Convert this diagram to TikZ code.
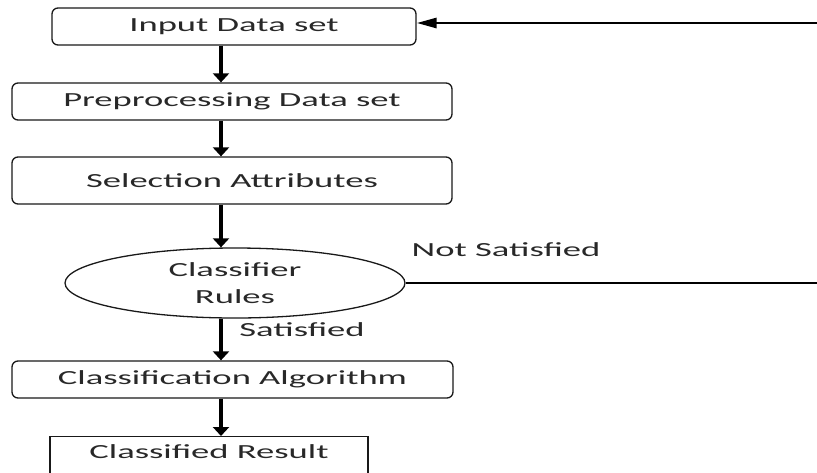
\documentclass[tikz,border=0pt]{standalone}
\usepackage{graphicx}
\usepackage{fontspec}
\setmainfont{Carlito}
\usetikzlibrary{arrows.meta,shapes.geometric}
\newcommand\wtx[1]{\scalebox{1.83}[1]{#1}}
\definecolor{txtc}{RGB}{40,40,40}
\definecolor{edgec}{RGB}{25,25,25}
\begin{document}
\begin{tikzpicture}[x=1pt,y=-1pt,
  every node/.style={font=\fontsize{20}{27}\selectfont, text=txtc},
  stepbox/.style={draw=edgec, line width=1.3pt, rounded corners=6pt, inner sep=0pt},
  plainbox/.style={draw=edgec, line width=1.3pt, inner sep=0pt},
  flowarr/.style={draw=black, line width=3.8pt, -{Triangle[width=16pt,length=9pt]}},
  backarr/.style={draw=black, line width=2.8pt, -{Triangle[width=10pt,length=20pt]}},
  thinline/.style={draw=black, line width=1.2pt},
  lbl/.style={inner sep=0pt}
]
\useasboundingbox (0,0) rectangle (817,472);
\clip (0,0) rectangle (817,472);

\coordinate (ax) at (221,0);
\coordinate (fbTop) at (818,23);
\coordinate (fbBot) at (818,283);

\node[stepbox, minimum width=364pt, minimum height=37pt] (in) at (234,26.5) {\wtx{Input Data set}};
\node[stepbox, minimum width=440pt, minimum height=37pt] (pre) at (232,101.5) {\wtx{Preprocessing Data set}};
\node[stepbox, minimum width=440pt, minimum height=47pt] (sel) at (232,180.5) {\wtx{Selection Attributes}};
\node[draw=edgec, line width=1.3pt, ellipse, inner sep=0pt, minimum width=340pt, minimum height=70pt, align=center] (cr) at (235,283) {\wtx{Classifier}\\\wtx{Rules}};
\node[stepbox, minimum width=441pt, minimum height=37pt] (ca) at (232.5,379.5) {\wtx{Classification Algorithm}};
\node[plainbox, minimum width=318pt, text height=22pt, text depth=20pt, anchor=north] (res) at (209,436) {\wtx{Classified Result}};

\node[lbl] (ns) at (506,250) {\wtx{Not Satisfied}};
\node[lbl] (sat) at (302,330) {\wtx{Satisfied}};

\draw[flowarr] (in.south -| ax) -- (pre.north -| ax);
\draw[flowarr] (pre.south -| ax) -- (sel.north -| ax);
\draw[flowarr] (sel.south -| ax) -- (ax |- cr.north);
\draw[flowarr] (ax |- cr.south) -- (ca.north -| ax);
\draw[flowarr] (ca.south -| ax) -- (res.north -| ax);

\draw[thinline] (cr.east) -- (fbBot);
\draw[backarr] (fbTop) -- (fbTop -| in.east);
\end{tikzpicture}
\end{document}
